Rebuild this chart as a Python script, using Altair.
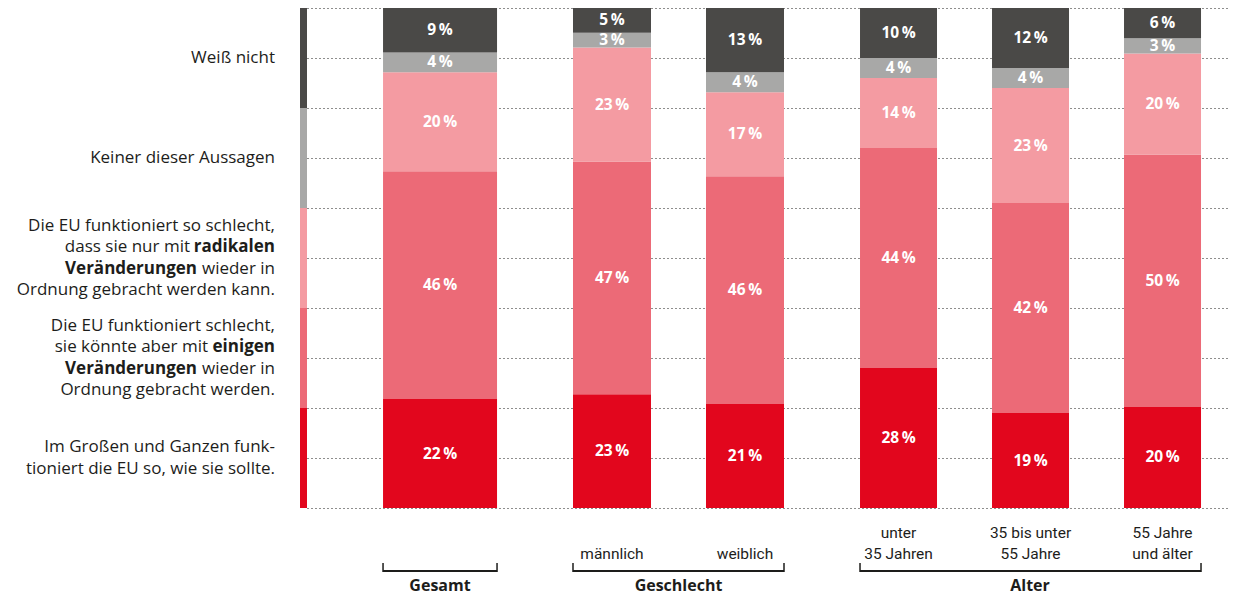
import altair as alt
import pandas as pd

# ---------------- data ----------------
categories = ["Gesamt", "männlich", "weiblich",
              "unter\n35 Jahren", "35 bis unter\n55 Jahre", "55 Jahre\nund älter"]
cat_groups = ["Gesamt", "Geschlecht", "Geschlecht", "Alter", "Alter", "Alter"]
group_names = ["Gesamt", "Geschlecht", "Alter"]

# answers from bottom to top of each bar
answers = ["gut", "einige", "radikal", "keiner", "weiss"]
colors = ["#e2061d", "#ec6a77", "#f49ba2", "#a8a8a7", "#4a4947"]

v_gut = [22, 23, 21, 28, 19, 20]
v_einige = [46, 47, 46, 44, 42, 50]
v_radikal = [20, 23, 17, 14, 23, 20]
v_keiner = [4, 3, 4, 4, 4, 3]
v_weiss = [9, 5, 13, 10, 12, 6]
series = [v_gut, v_einige, v_radikal, v_keiner, v_weiss]

# legend texts: per answer, list of lines, each line a list of (text, bold)
legend_lines = {
    "gut": [[("Im Großen und Ganzen funk-", False)],
            [("tioniert die EU so, wie sie sollte.", False)]],
    "einige": [[("Die EU funktioniert schlecht,", False)],
               [("sie könnte aber mit", False), ("einigen", True)],
               [("Veränderungen", True), ("wieder in", False)],
               [("Ordnung gebracht werden.", False)]],
    "radikal": [[("Die EU funktioniert so schlecht,", False)],
                [("dass sie nur mit", False), ("radikalen", True)],
                [("Veränderungen", True), ("wieder in", False)],
                [("Ordnung gebracht werden kann.", False)]],
    "keiner": [[("Keiner dieser Aussagen", False)]],
    "weiss": [[("Weiß nicht", False)]],
}

# ---------------- layout ----------------
H = 500
LW = 299          # label panel width
R = 267           # right edge of legend text
STRIP_X, STRIP_X2 = 292, 299
LINE_H = 21.5
LFS = 17
# right edge for the leading piece of mixed-weight lines
lead_right = {"radikalen": R - 85, "einigen": R - 67, "wieder in": R - 78}

FONT = "Open Sans"
SUBFONT = "Roboto"
TXT = "#1d1d1b"

rows = []
for ci, (c, g) in enumerate(zip(categories, cat_groups)):
    for ai, a in enumerate(answers):
        rows.append({"cat": c, "group": g, "answer": a, "order": ai,
                     "value": series[ai][ci]})
df = pd.DataFrame(rows)

yscale = alt.Scale(domain=[0, 1], nice=False, zero=True)
color = alt.Color("answer:N", scale=alt.Scale(domain=answers, range=colors), legend=None)

# ---------------- left legend panel ----------------
n = len(answers)
strip_df = pd.DataFrame({"answer": answers,
                         "y0": [i / n for i in range(n)],
                         "y1": [(i + 1) / n for i in range(n)]})
line_rows = []
for i, a in enumerate(answers):
    center = (i + 0.5) / n
    lines = legend_lines[a]
    k = len(lines)
    for li, parts in enumerate(lines):
        off = (li - (k - 1) / 2) * LINE_H
        yv = center - off / H
        if len(parts) == 1:
            line_rows.append({"text": parts[0][0], "bold": parts[0][1], "x": R, "y": yv})
        else:
            (t1, b1), (t2, b2) = parts
            line_rows.append({"text": t2, "bold": b2, "x": R, "y": yv})
            line_rows.append({"text": t1, "bold": b1, "x": lead_right[t2], "y": yv})
lines_df = pd.DataFrame(line_rows)

strip = alt.Chart(strip_df).mark_bar().encode(
    x=alt.value(STRIP_X), x2=alt.value(STRIP_X2),
    y=alt.Y("y0:Q", scale=yscale, axis=None), y2="y1:Q", color=color)

xpix = alt.Scale(domain=[0, LW], range=[0, LW])
leg_norm = alt.Chart(lines_df).transform_filter("!datum.bold").mark_text(
    align="right", baseline="middle", font=FONT, fontSize=LFS, color=TXT
).encode(x=alt.X("x:Q", scale=xpix, axis=None),
         y=alt.Y("y:Q", scale=yscale, axis=None), text="text:N")
leg_bold = alt.Chart(lines_df).transform_filter("datum.bold").mark_text(
    align="right", baseline="middle", font=FONT, fontSize=LFS, fontWeight="bold", color=TXT
).encode(x=alt.X("x:Q", scale=xpix, axis=None),
         y=alt.Y("y:Q", scale=yscale, axis=None), text="text:N")

left = alt.layer(strip, leg_norm, leg_bold).properties(width=LW, height=H)

# ---------------- bar panels ----------------
yaxis = alt.Axis(grid=True, values=[i / 10 for i in range(11)], labels=False, ticks=False,
                 domain=False, title=None, gridColor="#1d1d1b", gridDash=[1, 3],
                 gridWidth=1, minExtent=0, maxExtent=0)


def panel(group, width, pin, pout, align, title_x):
    cats = [c for c, g in zip(categories, cat_groups) if g == group]
    data = df[df.group == group]
    xscale = alt.Scale(domain=cats, paddingInner=pin, paddingOuter=pout, align=align)
    if group == "Gesamt":
        xaxis = None
    else:
        xaxis = alt.Axis(
            labelExpr="indexof(datum.label, '\\n') < 0 ? ['', datum.label] : split(datum.label, '\\n')",
            labelFont=SUBFONT, labelFontSize=15.5, labelColor=TXT, labelBaseline="middle",
            labelPadding=24, labelLineHeight=21, labelAngle=0,
            labelOverlap=False, ticks=False, tickSize=0, domain=False,
            grid=False, title=None)
    stacked = alt.Chart(data).transform_stack(
        stack="value", groupby=["cat"], as_=["y0", "y1"], offset="normalize",
        sort=[alt.SortField("order", order="ascending")])
    bars = stacked.mark_bar().encode(
        x=alt.X("cat:N", scale=xscale, axis=xaxis, title=None),
        y=alt.Y("y0:Q", scale=yscale, axis=yaxis), y2="y1:Q", color=color)
    labels = stacked.transform_calculate(
        mid="(datum.y0 + datum.y1) / 2", lab="datum.value + '\u2009%'"
    ).mark_text(font=FONT, fontSize=15.5, fontWeight="bold", color="white",
                baseline="middle").encode(
        x=alt.X("cat:N", scale=xscale), y=alt.Y("mid:Q", scale=yscale), text="lab:N")

    bdf = pd.DataFrame({"first": [cats[0]], "last": [cats[-1]], "title": [group]})
    base = alt.Chart(bdf)
    line = base.mark_rule(strokeWidth=2, color=TXT).encode(
        x=alt.X("first:N", scale=xscale, bandPosition=0),
        x2=alt.X2("last", bandPosition=1), y=alt.value(563))
    tl = base.mark_rule(strokeWidth=1.5, color=TXT).encode(
        x=alt.X("first:N", scale=xscale, bandPosition=0), y=alt.value(555), y2=alt.value(564))
    tr = base.mark_rule(strokeWidth=1.5, color=TXT).encode(
        x=alt.X("last:N", scale=xscale, bandPosition=1), y=alt.value(555), y2=alt.value(564))
    title = base.mark_text(font=FONT, fontSize=16, fontWeight="bold", color=TXT,
                           baseline="alphabetic", align="center").encode(
        x=alt.value(title_x), y=alt.value(583), text="title:N")
    return alt.layer(bars, labels, line, tl, tr, title).properties(width=width, height=H)


p1 = panel("Gesamt", 228, 0, 0.5, 0.667, 133)
p2 = panel("Geschlecht", 287, 0.4135, 0.2857, 0.5, 143.5)
p3 = panel("Alter", 407, 0.4167, 0.25, 0.576, 208)

chart = alt.hconcat(left, p1, p2, p3, spacing=0).properties(
    padding={"left": 0, "top": 0, "right": 0, "bottom": 2}).configure_view(stroke=None)

chart.save("out.html", embed_options={"renderer": "svg", "actions": False})
